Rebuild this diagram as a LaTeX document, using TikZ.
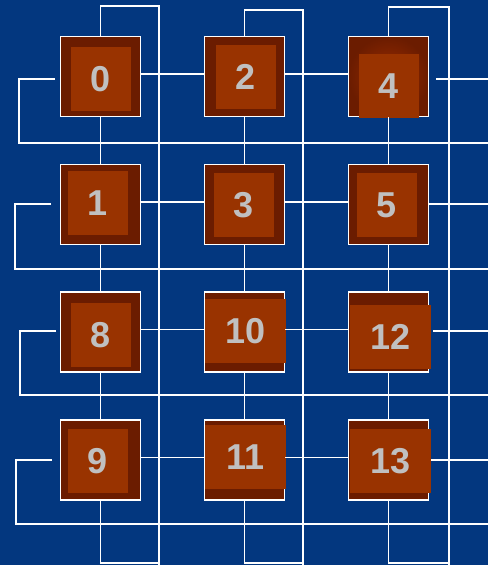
\documentclass[tikz,border=0pt]{standalone}
\usepackage{fontspec}
\setsansfont{Liberation Sans}
\usetikzlibrary{positioning,calc}
\definecolor{bgblue}{HTML}{03377F}
\definecolor{cellrim}{HTML}{6B1C00}
\definecolor{cellglow}{HTML}{9A2C00}
\definecolor{cellcore}{HTML}{993300}
\definecolor{labelgrey}{HTML}{C0C0C0}

\begin{document}
\begin{tikzpicture}[
  x=1pt, y=-1pt,
  cell/.style={draw=white, line width=1.8pt, fill=cellrim, minimum size=80pt,
               inner sep=0pt},
  core/.style={fill=cellcore, inner sep=0pt, text=labelgrey,
               font=\sffamily\bfseries\fontsize{36}{36}\selectfont},
  wire/.style={draw=white, line width=1.9pt},
]

\fill[bgblue] (0,0) rectangle (488,565);
\useasboundingbox (0,0) rectangle (488,565);

% processor cells
\node[cell] (b0) at (100.5,76.5) {};
\node[cell] (b1) at (100.5,204.5) {};
\node[cell] (b8) at (100.5,332) {};
\node[cell] (b9) at (100.5,460) {};
\node[cell] (b2) at (244.5,76.5) {};
\node[cell] (b3) at (244.5,204.5) {};
\node[cell] (b10) at (244.5,332) {};
\node[cell] (b11) at (244.5,460) {};
\node[cell, inner color=cellglow, outer color=cellrim] (b4) at (388.5,76.5) {};
\node[cell] (b5) at (388.5,204.5) {};
\node[cell] (b12) at (388.5,332) {};
\node[cell] (b13) at (388.5,460) {};

\node[core, minimum width=60pt, minimum height=64pt] (c0) at (101,79) {0};
\node[core, minimum width=60pt, minimum height=64pt] (c1) at (98,203) {1};
\node[core, minimum width=60pt, minimum height=64pt] (c8) at (101,335) {8};
\node[core, minimum width=60pt, minimum height=64pt] (c9) at (98,461) {9};
\node[core, minimum width=60pt, minimum height=64pt] (c2) at (246,77) {2};
\node[core, minimum width=60pt, minimum height=64pt] (c3) at (244,205) {3};
\node[core, minimum width=81pt, minimum height=64pt] (c10) at (245.5,331) {10};
\node[core, minimum width=81pt, minimum height=64pt] (c11) at (245.5,457) {11};
\node[core, minimum width=60pt, minimum height=64pt] (c4) at (389,86) {4};
\node[core, minimum width=60pt, minimum height=64pt] (c5) at (387,205) {5};
\node[core, minimum width=81pt, minimum height=64pt] (c12) at (390.5,337) {12};
\node[core, minimum width=81pt, minimum height=64pt] (c13) at (390.5,461) {13};

% mesh links
\foreach \a/\b in {b0/b2, b2/b4, b1/b3, b3/b5, b8/b10, b10/b12, b9/b11, b11/b13}
  \draw[wire] ([yshift=2.5pt]\a.east) -- ([yshift=2.5pt]\b.west);
\foreach \a/\b in {b0/b1, b1/b8, b8/b9, b2/b3, b3/b10, b10/b11, b4/b5, b5/b12, b12/b13}
  \draw[wire] (\a) -- (\b);

% wrap-around, columns
\foreach \t/\b/\x/\y in {b0/b9/159/6, b2/b11/303/10, b4/b13/449/7} {
  \coordinate (up) at (\x,\y);
  \coordinate (dn) at (\x,563);
  \coordinate (end) at (\x,565);
  \draw[wire] (\t.north) |- (up) -- (end);
  \draw[wire] (\b.south) |- (dn);
}

% wrap-around, rows
\foreach \y/\s/\g/\k/\r in {79/55/19/143/436, 204/51/15/269/429,
                           331/56/20/395/433, 460/52/16/524/431} {
  \coordinate (lt) at (\s,\y);
  \coordinate (rail) at (\g,\k);
  \coordinate (edge) at (488,\k);
  \coordinate (rt) at (\r,\y);
  \coordinate (rend) at (488,\y);
  \draw[wire] (lt) -| (rail) -- (edge);
  \draw[wire] (rt) -- (rend);
}

\end{tikzpicture}
\end{document}
